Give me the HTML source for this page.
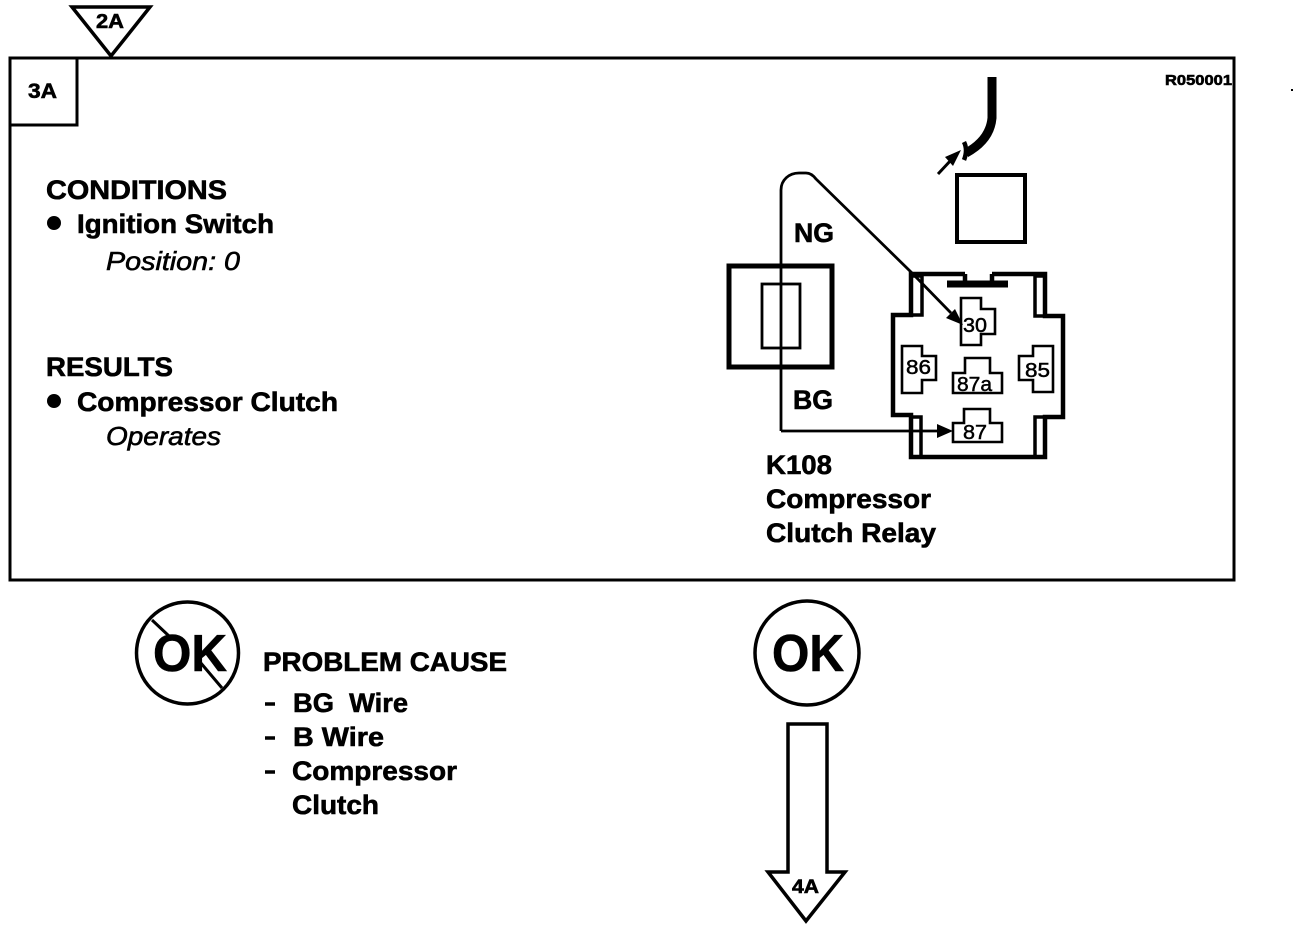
<!DOCTYPE html>
<html><head><meta charset="utf-8"><style>
html,body{margin:0;padding:0;background:#fff;width:1312px;height:930px;overflow:hidden}
svg{display:block}
text{font-family:"Liberation Sans",sans-serif;font-weight:bold;fill:#000;stroke:#000;stroke-width:.6}
.i{font-style:italic;font-weight:normal;stroke-width:.6}
.b{font-size:27px}
.n{font-size:20px;font-weight:normal;stroke-width:.5}
</style></head><body>
<svg width="1312" height="930" viewBox="0 0 1312 930" xmlns="http://www.w3.org/2000/svg" fill="none" stroke="#000">
<!-- outer frame -->
<rect x="10" y="58" width="1224" height="522" stroke-width="3"/>
<path d="M10 125H77V58" stroke-width="3"/>
<path d="M72 7H150L111 56Z" stroke-width="3.5" fill="#fff" stroke-linejoin="miter"/>
<rect x="1291" y="89" width="2" height="2" fill="#000" stroke="none"/>

<text x="28" y="98" font-size="21" textLength="29" lengthAdjust="spacingAndGlyphs">3A</text>
<text x="96" y="28" font-size="20" textLength="28" lengthAdjust="spacingAndGlyphs">2A</text>
<text x="1165" y="85" font-size="15" textLength="67" lengthAdjust="spacingAndGlyphs">R050001</text>

<text class="b" x="46" y="199" textLength="181" lengthAdjust="spacingAndGlyphs">CONDITIONS</text>
<circle cx="54" cy="223" r="7" fill="#000" stroke="none"/>
<text class="b" x="77" y="233" textLength="197" lengthAdjust="spacingAndGlyphs">Ignition Switch</text>
<text class="i" x="106" y="270" font-size="26" textLength="134" lengthAdjust="spacingAndGlyphs">Position: 0</text>
<text class="b" x="46" y="376" textLength="127" lengthAdjust="spacingAndGlyphs">RESULTS</text>
<circle cx="54" cy="401" r="7" fill="#000" stroke="none"/>
<text class="b" x="77" y="411" textLength="261" lengthAdjust="spacingAndGlyphs">Compressor Clutch</text>
<text class="i" x="106" y="445" font-size="26" textLength="115" lengthAdjust="spacingAndGlyphs">Operates</text>

<!-- top wire -->
<path d="M992 77V118Q990 140 966 153" stroke-width="9"/>
<path d="M964 142Q968 150 964 160" stroke-width="4.500"/>
<path d="M938 174L952 159" stroke-width="3"/>
<path d="M961 150L945 157L953 166Z" fill="#000" stroke="none"/>
<rect x="957" y="175" width="68" height="67" stroke-width="4"/>

<!-- fuse -->
<rect x="729" y="266" width="103" height="101" stroke-width="5"/>
<rect x="762" y="284" width="38" height="64" stroke-width="2.8"/>

<!-- wires -->
<path d="M781 431V190C781 180 789 173 799 173H806C810 173 813 175 816 179L912 273L951 313" stroke-width="2.8"/>
<path d="M963 325L946 318L955 309Z" fill="#000" stroke="none"/>
<path d="M781 431H940" stroke-width="2.8"/>
<path d="M953 431L937 424V438Z" fill="#000" stroke="none"/>

<!-- relay -->
<path d="M965 274H911V315H893V415H911V457H1045V417H1063V316H1045V274H992" stroke-width="4.500"/>
<path d="M911 276H922V315H911M1035 276H1045V316H1035V276M911 417H921V456M1035 456V417H1045" stroke-width="3.500"/>
<path d="M965 274V284M992 274V284" stroke-width="4.500"/>
<path d="M947 284H1008" stroke-width="7"/>

<g stroke-width="2.6" fill="none">
<path d="M961 298H981V309H995V334H981V345H961Z"/>
<path d="M902 346H922V356H936V380H922V393H902Z"/>
<path d="M1053 346H1033V356H1019V380H1033V392H1053Z"/>
<path d="M965 358H990V373H1002V393H953V373H965Z"/>
<path d="M964 409H990V423H1002V442H953V423H964Z"/>
</g>
<text class="n" x="963" y="332" textLength="24" lengthAdjust="spacingAndGlyphs">30</text>
<text class="n" x="906" y="374" textLength="25" lengthAdjust="spacingAndGlyphs">86</text>
<text class="n" x="1025" y="377" textLength="25" lengthAdjust="spacingAndGlyphs">85</text>
<text class="n" x="957" y="391" textLength="35" lengthAdjust="spacingAndGlyphs">87a</text>
<text class="n" x="963" y="439" textLength="24" lengthAdjust="spacingAndGlyphs">87</text>

<text class="b" x="794" y="242" textLength="40" lengthAdjust="spacingAndGlyphs">NG</text>
<text class="b" x="793" y="409" textLength="40" lengthAdjust="spacingAndGlyphs">BG</text>
<text class="b" x="766" y="474" textLength="66" lengthAdjust="spacingAndGlyphs">K108</text>
<text class="b" x="766" y="508" textLength="165" lengthAdjust="spacingAndGlyphs">Compressor</text>
<text class="b" x="766" y="542" textLength="170" lengthAdjust="spacingAndGlyphs">Clutch Relay</text>

<!-- no OK -->
<circle cx="187.500" cy="653" r="51" stroke-width="3.500"/>
<text x="153" y="671" font-size="52" textLength="74" lengthAdjust="spacingAndGlyphs">OK</text>
<path d="M152 620L170 637M200 662L222 688" stroke-width="3"/>

<text class="b" x="263" y="671" textLength="244" lengthAdjust="spacingAndGlyphs">PROBLEM CAUSE</text>
<path d="M265 704H275M265 738H275M265 772H275" stroke-width="3.500"/>
<text class="b" x="293" y="712" textLength="115" lengthAdjust="spacingAndGlyphs" xml:space="preserve">BG  Wire</text>
<text class="b" x="293" y="746" textLength="91" lengthAdjust="spacingAndGlyphs">B Wire</text>
<text class="b" x="292" y="780" textLength="165" lengthAdjust="spacingAndGlyphs">Compressor</text>
<text class="b" x="292" y="814" textLength="87" lengthAdjust="spacingAndGlyphs">Clutch</text>

<!-- OK -->
<circle cx="807" cy="653" r="52" stroke-width="3.500"/>
<text x="772" y="671" font-size="52" textLength="72" lengthAdjust="spacingAndGlyphs">OK</text>

<path d="M788 724H827V872H845L806 921L768 872H788Z" stroke-width="3.500" stroke-linejoin="miter"/>
<text x="792" y="893" font-size="19" textLength="27" lengthAdjust="spacingAndGlyphs">4A</text>
</svg>
</body></html>
